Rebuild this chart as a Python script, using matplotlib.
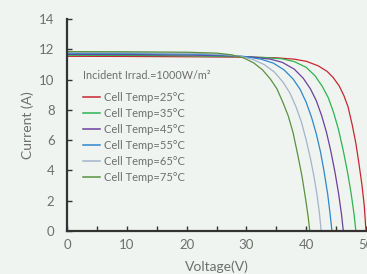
import matplotlib
matplotlib.use("Agg")
import matplotlib.pyplot as plt

# I-V curves at 1000 W/m2, one per cell temperature
labels = ["Cell Temp=25°C", "Cell Temp=35°C", "Cell Temp=45°C",
          "Cell Temp=55°C", "Cell Temp=65°C", "Cell Temp=75°C"]
colors = ["#c8262f", "#2fb350", "#6b3f9e", "#2f86cc", "#a3b3ca", "#5a9140"]

v25 = [0, 10, 20, 30, 35, 38, 40, 42, 43.5, 44.5, 45.5, 46.3, 47, 47.7, 48.3, 48.8, 49.3, 49.7, 50]
i25 = [11.55, 11.54, 11.52, 11.49, 11.45, 11.36, 11.22, 10.92, 10.55, 10.15, 9.6, 8.95, 8.2, 7.0, 5.8, 4.5, 3.1, 1.7, 0]

v35 = [0, 10, 20, 30, 33, 36, 38, 40, 41.5, 42.7, 43.7, 44.6, 45.4, 46.2, 46.9, 47.5, 48.0, 48.3]
i35 = [11.62, 11.61, 11.58, 11.52, 11.47, 11.38, 11.2, 10.82, 10.25, 9.55, 8.8, 7.8, 6.7, 5.3, 3.9, 2.5, 1.1, 0]

v45 = [0, 10, 20, 28, 31, 34, 36, 38, 39.5, 40.7, 41.7, 42.6, 43.4, 44.1, 44.8, 45.4, 45.9, 46.2]
i45 = [11.68, 11.67, 11.64, 11.57, 11.5, 11.36, 11.15, 10.7, 10.1, 9.4, 8.6, 7.6, 6.5, 5.3, 3.9, 2.5, 1.1, 0]

v55 = [0, 10, 20, 27, 30, 32.5, 34.5, 36.3, 37.8, 39.0, 40.0, 40.9, 41.7, 42.4, 43.0, 43.6, 44.0, 44.3]
i55 = [11.74, 11.73, 11.7, 11.62, 11.52, 11.35, 11.1, 10.65, 10.05, 9.35, 8.5, 7.5, 6.4, 5.2, 3.9, 2.4, 1.1, 0]

v65 = [0, 10, 20, 26, 29, 31, 33, 34.7, 36.1, 37.3, 38.3, 39.2, 40.0, 40.7, 41.3, 41.8, 42.2, 42.5]
i65 = [11.8, 11.79, 11.76, 11.68, 11.55, 11.35, 11.0, 10.5, 9.85, 9.1, 8.2, 7.2, 6.0, 4.8, 3.6, 2.4, 1.2, 0]

v75 = [0, 10, 20, 25, 27.5, 29.5, 31.2, 32.7, 34, 35.1, 36.1, 37, 37.8, 38.6, 39.3, 39.9, 40.3, 40.6]
i75 = [11.86, 11.85, 11.82, 11.76, 11.65, 11.45, 11.12, 10.65, 10.05, 9.4, 8.5, 7.6, 6.5, 5.0, 3.6, 2.1, 1.0, 0]

volts = [v25, v35, v45, v55, v65, v75]
amps = [i25, i35, i45, i55, i65, i75]

xticks = [0, 5, 10, 15, 20, 25, 30, 35, 40, 45, 50]
yticks = [0, 2, 4, 6, 8, 10, 12, 14]

bg = "#eff4f1"
txt = "#6e6e6e"
plt.rcParams["font.family"] = ["Lato", "DejaVu Sans"]

fig = plt.figure(figsize=(3.67, 2.74), dpi=100, facecolor=bg)
ax = fig.add_axes([67 / 367, 43.3 / 274, 299 / 367, 211.4 / 274])
ax.set_facecolor(bg)

for v, i, c, lab in zip(volts, amps, colors, labels):
    ax.plot(v, i, color=c, lw=0.9, label=lab, clip_on=False)

ax.set_xlim(0, 50)
ax.set_ylim(0, 14)
ax.set_xticks(xticks)
ax.set_xticklabels([str(t) if t % 10 == 0 else "" for t in xticks])
ax.set_yticks(yticks)

for s in ["top", "right"]:
    ax.spines[s].set_visible(False)
for s in ["left", "bottom"]:
    ax.spines[s].set_linewidth(1.6)
    ax.spines[s].set_color("#333333")

ax.tick_params(axis="both", direction="in", length=3.5, width=1, color="#333333",
               labelcolor=txt, labelsize=9.5)
ax.tick_params(axis="y", pad=9)
ax.tick_params(axis="x", pad=6)

ax.set_xlabel("Voltage(V)", color=txt, fontsize=10, labelpad=7)
ax.set_ylabel("Current (A)", color=txt, fontsize=10, labelpad=3.5)

ax.text(0.053, 0.734, "Incident Irrad.=1000W/m²", transform=ax.transAxes,
        color=txt, fontsize=7.8, va="center", ha="left")

leg = ax.legend(loc="upper left", bbox_to_anchor=(0.0535, 0.658), frameon=False,
                fontsize=8, handlelength=1.53, handletextpad=0.36,
                labelspacing=0.45, borderaxespad=0, borderpad=0)
for t in leg.get_texts():
    t.set_color(txt)
for l in leg.get_lines():
    l.set_linewidth(1.1)

fig.savefig("out.png", dpi=100, facecolor=bg)
